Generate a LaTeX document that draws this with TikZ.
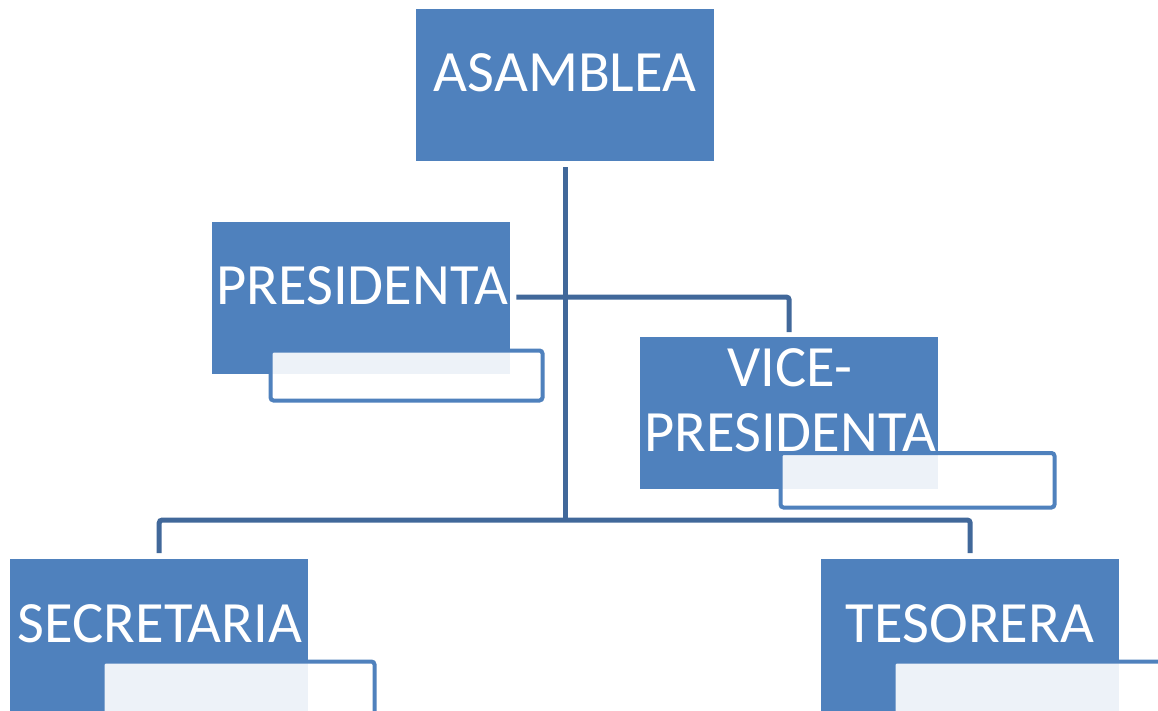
\documentclass[tikz,border=0pt]{standalone}
\usepackage{fontspec}
\setmainfont{Carlito}
\usetikzlibrary{calc}
\definecolor{boxblue}{HTML}{4F81BD}
\definecolor{linkblue}{HTML}{41689A}
\tikzset{
  mainbox/.style={rectangle, fill=boxblue, draw=none, inner sep=0pt, minimum width=298pt, minimum height=152pt, anchor=north west},
  framebox/.style={draw=boxblue, line width=4pt, rounded corners=3pt, fill=white, fill opacity=0.9},
  boxtext/.style={text=white, inner sep=0pt, font=\fontsize{58.5}{65}\selectfont},
  link/.style={draw=linkblue, line width=5pt, rounded corners=3pt}
}
\begin{document}
\begin{tikzpicture}[x=1pt,y=-1pt]
\clip (0,0) rectangle (1158,711);
\fill[white] (0,0) rectangle (1158,711);
% main boxes
\node[mainbox] (asam) at (416,9) {};
\node[mainbox] (pres) at (212,222) {};
\node[mainbox] (vice) at (640,337) {};
\node[mainbox] (secr) at (10,559) {};
\node[mainbox] (teso) at (821,559) {};
% frames
\draw[framebox] (270.5,350.5) rectangle (542.5,400.5);
\draw[framebox] (780.5,453) rectangle (1054.5,507.5);
\draw[framebox] (102.5,661.5) rectangle (374.5,760);
\draw[framebox] (893.5,661.5) rectangle (1220,760);
% texts
\node[boxtext, anchor=base] (asamt) at (565,92) {ASAMBLEA};
\node[boxtext, anchor=base] (prest) at (362,304) {PRESIDENTA};
\node[boxtext, anchor=south, align=center, text depth=0pt] (vicet) at (790,452) {VICE-\\PRESIDENTA};
\node[boxtext, anchor=base] (secrt) at (160,642) {SECRETARIA};
\node[boxtext, anchor=base] (tesot) at (970,642) {TESORERA};
% connectors
\coordinate (hub) at (asam.south |- 0,520);
\coordinate (ptee) at (asam.south |- 0,297);
\draw[link] ($(asam.south)+(0,6)$) -- (hub);
\draw[link] ($(pres.east |- ptee)+(6,0)$) -- (vice.north |- ptee) -- ($(vice.north)+(0,-5)$);
\draw[link] ($(secr.north)+(0,-6)$) -- (secr.north |- hub) -- (teso.north |- hub) -- ($(teso.north)+(0,-6)$);
\end{tikzpicture}
\end{document}
